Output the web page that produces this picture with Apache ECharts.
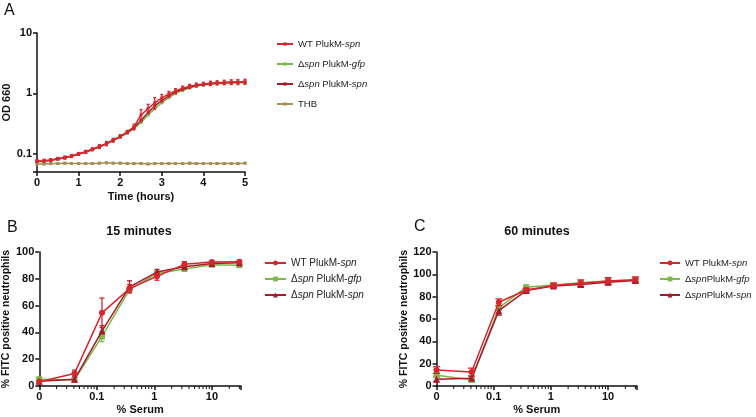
<!DOCTYPE html>
<html>
<head>
<meta charset="utf-8">
<script src="https://cdn.jsdelivr.net/npm/echarts@6/dist/echarts.min.js"></script>
<style>
  html, body { margin: 0; padding: 0; background: #fff; }
  #chart { width: 756px; height: 417px; }
</style>
</head>
<body>
<div id="chart"></div>
<script>
// ---- panel A: growth curves (OD 660, log scale) ----
var timeHours = [0, 0.17, 0.33, 0.5, 0.67, 0.83, 1, 1.17, 1.33, 1.5, 1.67, 1.83, 2, 2.17, 2.33, 2.5,
  2.67, 2.83, 3, 3.17, 3.33, 3.5, 3.67, 3.83, 4, 4.17, 4.33, 4.5, 4.67, 4.83, 5]
var odWT = [0.076, 0.077, 0.079, 0.083, 0.087, 0.092, 0.1, 0.108, 0.119, 0.132, 0.148, 0.168, 0.195, 0.23, 0.28, 0.44,
  0.56, 0.7, 0.84, 0.98, 1.1, 1.22, 1.31, 1.38, 1.43, 1.47, 1.5, 1.52, 1.54, 1.55, 1.56]
var odGfp = [0.074, 0.075, 0.078, 0.082, 0.086, 0.091, 0.099, 0.107, 0.118, 0.131, 0.146, 0.165, 0.19, 0.22, 0.26, 0.33,
  0.44, 0.56, 0.7, 0.85, 0.99, 1.12, 1.23, 1.32, 1.38, 1.42, 1.45, 1.47, 1.49, 1.5, 1.51]
var odSpn = [0.075, 0.076, 0.078, 0.082, 0.086, 0.091, 0.099, 0.107, 0.118, 0.131, 0.147, 0.167, 0.193, 0.227, 0.27, 0.36,
  0.48, 0.62, 0.76, 0.91, 1.05, 1.17, 1.27, 1.35, 1.41, 1.45, 1.48, 1.5, 1.52, 1.53, 1.54]
var odTHB = [0.068, 0.068, 0.069, 0.069, 0.07, 0.069, 0.069, 0.069, 0.069, 0.07, 0.071, 0.07, 0.07, 0.069, 0.069, 0.069,
  0.068, 0.069, 0.069, 0.069, 0.069, 0.069, 0.07, 0.069, 0.069, 0.069, 0.069, 0.069, 0.069, 0.069, 0.07]
var odWTErr = [0.004, 0.004, 0.004, 0.004, 0.005, 0.005, 0.005, 0.006, 0.007, 0.01, 0.012, 0.012, 0.012, 0.014, 0.03, 0.1,
  0.1, 0.15, 0.12, 0.1, 0.1, 0.1, 0.1, 0.1, 0.1, 0.12, 0.12, 0.13, 0.14, 0.15, 0.15]
var odTHBErr = [0.002, 0.002, 0.002, 0.002, 0.002, 0.002, 0.002, 0.002, 0.002, 0.002, 0.002, 0.002, 0.002, 0.002, 0.002, 0.002,
  0.002, 0.002, 0.002, 0.002, 0.002, 0.002, 0.002, 0.002, 0.002, 0.002, 0.002, 0.002, 0.002, 0.002, 0.002]

// ---- panels B / C: % FITC positive neutrophils vs % serum ----
var serumDoses = [0, 0.041, 0.123, 0.37, 1.11, 3.33, 10, 30]
var ZERO_AT = 0.01 // where the 0 % dose sits on the log axis
var serumMinorTicks = [0.02, 0.03, 0.04, 0.05, 0.06, 0.07, 0.08, 0.09, 0.2, 0.3, 0.4, 0.5, 0.6, 0.7, 0.8, 0.9,
  2, 3, 4, 5, 6, 7, 8, 9, 20, 30]

var wt15 = [3.2, 9.4, 54.6, 72.7, 81.9, 90.8, 92.5, 92.8]
var gfp15 = [5, 4.5, 37, 72, 84, 87.3, 90.5, 90.2]
var spn15 = [3.5, 5, 41, 74, 85, 89, 91.5, 92]
var wt15Err = [1.5, 2.5, 11, 3, 3, 2, 1, 1]
var gfp15Err = [1.5, 1, 4, 2, 1.5, 1, 1, 1]
var spn15Err = [1, 1, 4, 4.5, 2, 1.5, 1, 1]

var wt60 = [14.3, 12.5, 75, 86, 90, 92, 94, 95.2]
var gfp60 = [9.7, 5.5, 70, 88.5, 90.5, 92.5, 94, 95]
var spn60 = [6, 7, 67.5, 85.5, 89.5, 91, 93, 94.5]
var wt60Err = [3, 3.5, 3, 1.5, 2, 3, 3, 2.5]
var gfp60Err = [1.5, 1.5, 2, 1, 1, 1.5, 1.5, 1.5]
var spn60Err = [2, 1.5, 4, 1.5, 1.5, 2, 2, 1.5]

var RED = '#d7262f'
var GREEN = '#7cb84a'
var DARKRED = '#a51b2d'
var TAN = '#a58f55'
var FONT = '"Liberation Sans", Arial, sans-serif'

var chart = echarts.init(document.getElementById('chart'))

function pairs(xs, ys) {
  return xs.map(function(x, i) { return [x, ys[i]] })
}

function serumX() {
  return serumDoses.map(function(d) { return d === 0 ? ZERO_AT : d })
}

function errorBars(idx, xs, ys, errs, color, z, cap) {
  return {
    type: 'custom',
    xAxisIndex: idx,
    yAxisIndex: idx,
    z: z,
    silent: true,
    clip: false,
    data: xs.map(function(x, i) { return [x, ys[i] - errs[i], ys[i] + errs[i]] }),
    renderItem: function(params, api) {
      var lo = api.coord([api.value(0), api.value(1)])
      var hi = api.coord([api.value(0), api.value(2)])
      var st = { stroke: color, lineWidth: 1.3 }
      return {
        type: 'group',
        children: [
          { type: 'line', shape: { x1: lo[0], y1: lo[1], x2: hi[0], y2: hi[1] }, style: st },
          { type: 'line', shape: { x1: lo[0] - cap, y1: lo[1], x2: lo[0] + cap, y2: lo[1] }, style: st },
          { type: 'line', shape: { x1: hi[0] - cap, y1: hi[1], x2: hi[0] + cap, y2: hi[1] }, style: st }
        ]
      }
    }
  }
}

function minorTicks(idx) {
  return {
    type: 'custom',
    xAxisIndex: idx,
    yAxisIndex: idx,
    silent: true,
    clip: false,
    data: serumMinorTicks.map(function(v) { return [v, 0] }),
    renderItem: function(params, api) {
      var p = api.coord([api.value(0), 0])
      return {
        type: 'line',
        shape: { x1: p[0], y1: p[1], x2: p[0], y2: p[1] + 3 },
        style: { stroke: '#111', lineWidth: 1 }
      }
    }
  }
}

function lineSeries(name, idx, data, color, symbol, size, z) {
  return {
    name: name,
    type: 'line',
    xAxisIndex: idx,
    yAxisIndex: idx,
    data: data,
    symbol: symbol,
    symbolSize: size,
    z: z,
    lineStyle: { color: color, width: 1.5 },
    itemStyle: { color: color },
    animation: false
  }
}

function axisBase() {
  return {
    axisLine: { lineStyle: { color: '#111', width: 1.5 } },
    axisTick: { length: 4, lineStyle: { color: '#111', width: 1.5 } },
    axisLabel: { color: '#111', fontSize: 11, fontWeight: 'bold', fontFamily: FONT, margin: 5 },
    splitLine: { show: false },
    nameTextStyle: { color: '#111', fontSize: 11, fontWeight: 'bold', fontFamily: FONT }
  }
}

function logLabel(v) {
  var l = Math.round(Math.log10(v) * 1000) / 1000
  if (Math.abs(l + 2) < 1e-6) return '0'
  if (l === -1) return '0.1'
  if (l === 0) return '1'
  if (l === 1) return '10'
  return ''
}

var legendText = {
  A_WT: 'WT PlukM-{i|spn}', A_gfp: 'Δ{i|spn} PlukM-{i|gfp}', A_spn: 'Δ{i|spn} PlukM-{i|spn}', A_THB: 'THB',
  B_WT: 'WT PlukM-{i|spn}', B_gfp: 'Δ{i|spn} PlukM-{i|gfp}', B_spn: 'Δ{i|spn} PlukM-{i|spn}',
  C_WT: 'WT PlukM-{i|spn}', C_gfp: 'Δ{i|spn}PlukM-{i|gfp}', C_spn: 'Δ{i|spn}PlukM-{i|spn}'
}

function legendBox(names, left, top, gap, size, w, h) {
  return {
    data: names,
    orient: 'vertical',
    left: left,
    top: top,
    itemGap: gap,
    itemWidth: w,
    itemHeight: h,
    selectedMode: false,
    formatter: function(n) { return legendText[n] },
    textStyle: {
      color: '#222', fontSize: size, fontFamily: FONT,
      rich: { i: { fontStyle: 'italic', fontSize: size, fontFamily: FONT, color: '#222' } }
    }
  }
}

var xs = serumX()

var xA = axisBase()
Object.assign(xA, {
  type: 'value', gridIndex: 0, min: 0, max: 5, interval: 1,
  name: 'Time (hours)', nameLocation: 'middle', nameGap: 19
})
var yA = axisBase()
Object.assign(yA, {
  type: 'log', logBase: 10, gridIndex: 0, min: 0.05, max: 10,
  name: 'OD 660', nameLocation: 'middle', nameGap: 24
})
yA.axisLabel.formatter = function(v) {
  var l = Math.round(Math.log10(v) * 1000) / 1000
  if (l === -1) return '0.1'
  if (l === 0) return '1'
  if (l === 1) return '10'
  return ''
}

var xB = axisBase()
Object.assign(xB, {
  type: 'log', logBase: 10, gridIndex: 1, min: ZERO_AT, max: 32,
  name: '% Serum', nameLocation: 'middle', nameGap: 18
})
xB.axisLabel.formatter = logLabel
var yB = axisBase()
Object.assign(yB, {
  type: 'value', gridIndex: 1, min: 0, max: 100, interval: 20,
  name: '% FITC positive neutrophils', nameLocation: 'middle', nameGap: 25
})
yB.nameTextStyle.fontSize = 10.5

var xC = axisBase()
Object.assign(xC, {
  type: 'log', logBase: 10, gridIndex: 2, min: ZERO_AT, max: 32,
  name: '% Serum', nameLocation: 'middle', nameGap: 18
})
xC.axisLabel.formatter = logLabel
var yC = axisBase()
Object.assign(yC, {
  type: 'value', gridIndex: 2, min: 0, max: 120, interval: 20,
  name: '% FITC positive neutrophils', nameLocation: 'middle', nameGap: 25
})
yC.nameTextStyle.fontSize = 10.5

var option = {
  backgroundColor: '#fff',
  animation: false,
  textStyle: { fontFamily: FONT },
  grid: [
    { left: 37, right: 511, top: 33, bottom: 245 },
    { left: 37, right: 515, top: 252, bottom: 31 },
    { left: 436.5, right: 119, top: 252, bottom: 31 }
  ],
  xAxis: [xA, xB, xC],
  yAxis: [yA, yB, yC],
  legend: [
    legendBox(['A_WT', 'A_gfp', 'A_spn', 'A_THB'], 271, 34, 10, 9.5, 16, 4),
    legendBox(['B_WT', 'B_gfp', 'B_spn'], 259, 253, 6, 10, 21, 6),
    legendBox(['C_WT', 'C_gfp', 'C_spn'], 654, 253, 6, 9.5, 20, 6)
  ],
  graphic: [
    { type: 'text', x: 4, y: 3, style: { text: 'A', font: '16px ' + FONT, fill: '#111' } },
    { type: 'text', x: 7, y: 220, style: { text: 'B', font: '16px ' + FONT, fill: '#111' } },
    { type: 'text', x: 414, y: 219, style: { text: 'C', font: '16px ' + FONT, fill: '#111' } },
    { type: 'text', x: 139, y: 225, style: { text: '15 minutes', font: 'bold 12.5px ' + FONT, fill: '#111', align: 'center' } },
    { type: 'text', x: 537, y: 225, style: { text: '60 minutes', font: 'bold 12.5px ' + FONT, fill: '#111', align: 'center' } }
  ],
  series: [
    // panel A
    errorBars(0, timeHours, odTHB, odTHBErr, TAN, 2, 1.5),
    lineSeries('A_THB', 0, pairs(timeHours, odTHB), TAN, 'rect', 3, 3),
    lineSeries('A_gfp', 0, pairs(timeHours, odGfp), GREEN, 'rect', 3, 3),
    lineSeries('A_spn', 0, pairs(timeHours, odSpn), DARKRED, 'rect', 3, 3),
    errorBars(0, timeHours, odWT, odWTErr, RED, 4, 1.5),
    lineSeries('A_WT', 0, pairs(timeHours, odWT), RED, 'rect', 3, 5),
    // panel B
    minorTicks(1),
    errorBars(1, xs, gfp15, gfp15Err, GREEN, 2, 2.5),
    lineSeries('B_gfp', 1, pairs(xs, gfp15), GREEN, 'rect', 6, 3),
    errorBars(1, xs, spn15, spn15Err, DARKRED, 3, 2.5),
    lineSeries('B_spn', 1, pairs(xs, spn15), DARKRED, 'triangle', 7, 4),
    errorBars(1, xs, wt15, wt15Err, RED, 4, 2.5),
    lineSeries('B_WT', 1, pairs(xs, wt15), RED, 'circle', 6, 5),
    // panel C
    minorTicks(2),
    errorBars(2, xs, gfp60, gfp60Err, GREEN, 2, 3),
    lineSeries('C_gfp', 2, pairs(xs, gfp60), GREEN, 'rect', 6, 3),
    errorBars(2, xs, spn60, spn60Err, DARKRED, 3, 3),
    lineSeries('C_spn', 2, pairs(xs, spn60), DARKRED, 'triangle', 7, 4),
    errorBars(2, xs, wt60, wt60Err, RED, 4, 3.5),
    lineSeries('C_WT', 2, pairs(xs, wt60), RED, 'circle', 6, 5)
  ]
}

chart.setOption(option)
</script>
</body>
</html>
